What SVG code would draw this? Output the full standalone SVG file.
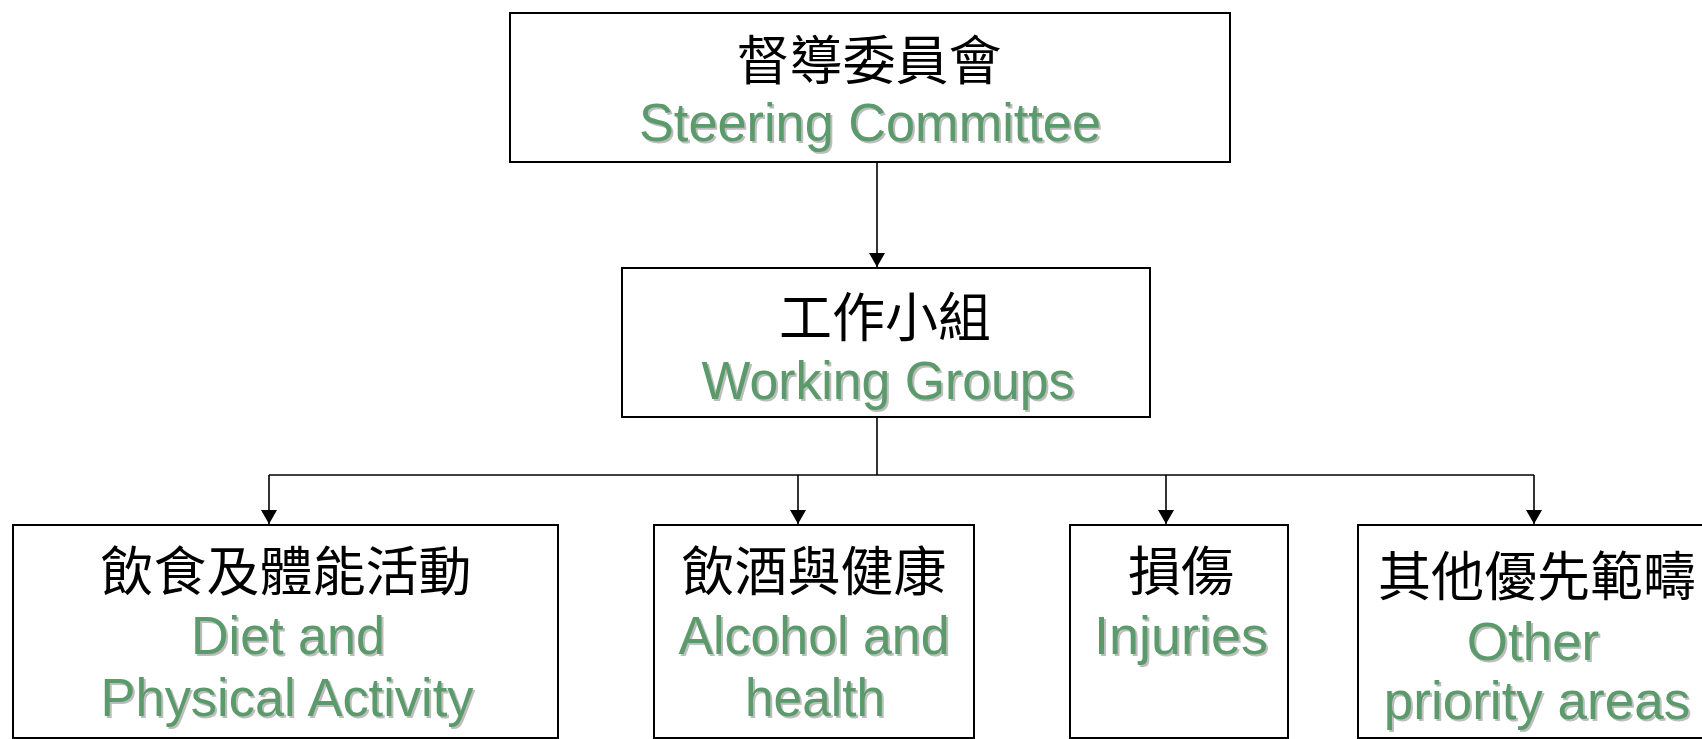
<svg xmlns="http://www.w3.org/2000/svg" width="1702" height="739" viewBox="0 0 1702 739">
<defs>
<style>
.box{fill:#fff;stroke:#000;stroke-width:2}
.zh{font-family:"Noto Sans CJK TC","Noto Sans CJK SC",sans-serif;font-size:53px;fill:#000;text-anchor:middle}
.en{font-family:"Liberation Sans",Arial,sans-serif;font-size:53px;fill:#5b9a6b;text-anchor:middle}
.sh{font-family:"Liberation Sans",Arial,sans-serif;font-size:53px;fill:#bdbdbd;text-anchor:middle}
.ln{fill:none;stroke:#000;stroke-width:1.6}
</style>
<marker id="ah" viewBox="0 0 14 16" refX="14" refY="8" markerWidth="14" markerHeight="16" markerUnits="userSpaceOnUse" orient="auto">
<path d="M0,0 L14,8 L0,16 Z" fill="#000"/>
</marker>
</defs>
<g id="connectors">
<line class="ln" x1="877" y1="162" x2="877" y2="267" marker-end="url(#ah)"/>
<polyline class="ln" points="877,417 877,475"/>
<line class="ln" x1="269" y1="475" x2="1534" y2="475"/>
<line class="ln" x1="269" y1="475" x2="269" y2="524" marker-end="url(#ah)"/>
<line class="ln" x1="798" y1="475" x2="798" y2="524" marker-end="url(#ah)"/>
<line class="ln" x1="1166" y1="475" x2="1166" y2="524" marker-end="url(#ah)"/>
<line class="ln" x1="1534" y1="475" x2="1534" y2="524" marker-end="url(#ah)"/>
</g>
<g id="steering">
<rect class="box" x="510" y="13" width="720" height="149"/>
<text class="zh" x="869" y="80">督導委員會</text>
<text class="sh" x="872" y="143" textLength="462" lengthAdjust="spacingAndGlyphs">Steering Committee</text>
<text class="en" x="870" y="141" textLength="462" lengthAdjust="spacingAndGlyphs">Steering Committee</text>
</g>
<g id="working">
<rect class="box" x="622" y="268" width="528" height="149"/>
<text class="zh" x="885" y="337">工作小組</text>
<text class="sh" x="890" y="401" textLength="373" lengthAdjust="spacingAndGlyphs">Working Groups</text>
<text class="en" x="888" y="399" textLength="373" lengthAdjust="spacingAndGlyphs">Working Groups</text>
</g>
<g id="diet">
<rect class="box" x="13" y="525" width="545" height="213"/>
<text class="zh" x="286" y="591">飲食及體能活動</text>
<text class="sh" x="290" y="656" textLength="194" lengthAdjust="spacingAndGlyphs">Diet and</text>
<text class="en" x="288" y="654" textLength="194" lengthAdjust="spacingAndGlyphs">Diet and</text>
<text class="sh" x="289" y="718" textLength="373" lengthAdjust="spacingAndGlyphs">Physical Activity</text>
<text class="en" x="287" y="716" textLength="373" lengthAdjust="spacingAndGlyphs">Physical Activity</text>
</g>
<g id="alcohol">
<rect class="box" x="654" y="525" width="320" height="213"/>
<text class="zh" x="814" y="591">飲酒與健康</text>
<text class="sh" x="816" y="656" textLength="271" lengthAdjust="spacingAndGlyphs">Alcohol and</text>
<text class="en" x="814" y="654" textLength="271" lengthAdjust="spacingAndGlyphs">Alcohol and</text>
<text class="sh" x="817" y="718" textLength="140" lengthAdjust="spacingAndGlyphs">health</text>
<text class="en" x="815" y="716" textLength="140" lengthAdjust="spacingAndGlyphs">health</text>
</g>
<g id="injuries">
<rect class="box" x="1070" y="525" width="218" height="213"/>
<text class="zh" x="1181" y="591">損傷</text>
<text class="sh" x="1183" y="656" textLength="174" lengthAdjust="spacingAndGlyphs">Injuries</text>
<text class="en" x="1181" y="654" textLength="174" lengthAdjust="spacingAndGlyphs">Injuries</text>
</g>
<g id="other">
<rect class="box" x="1358" y="525" width="360" height="213"/>
<text class="zh" x="1537" y="596">其他優先範疇</text>
<text class="sh" x="1535" y="662" font-size="55">Other</text>
<text class="en" x="1533" y="660" font-size="55">Other</text>
<text class="sh" x="1539" y="721" font-size="55">priority areas</text>
<text class="en" x="1537" y="719" font-size="55">priority areas</text>
</g>
</svg>
